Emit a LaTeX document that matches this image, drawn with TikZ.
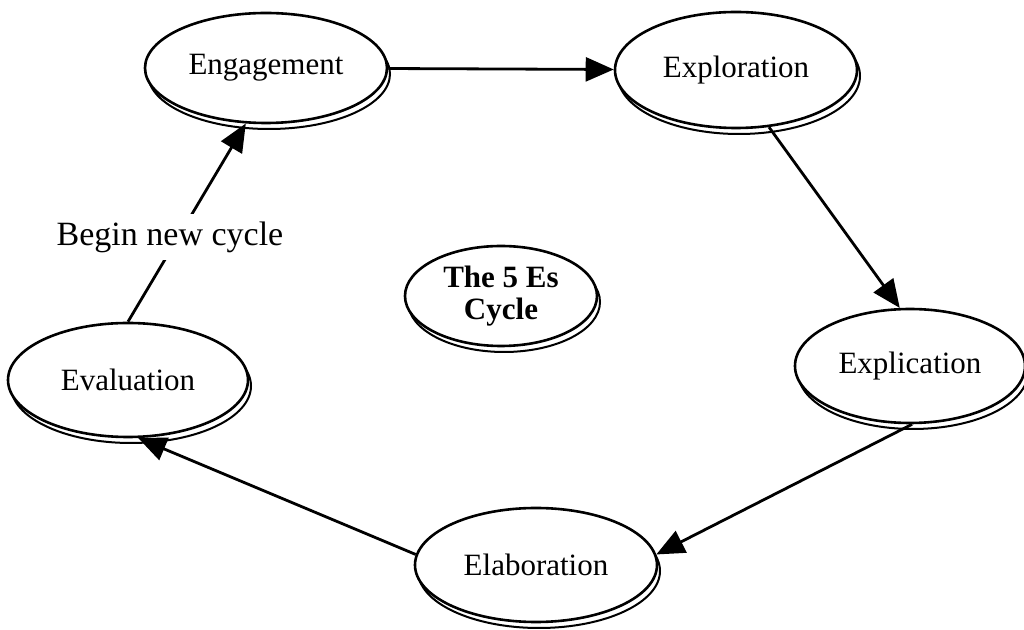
\documentclass[tikz,border=0pt]{standalone}
\usepackage{fontspec}
\setmainfont{Liberation Serif}
\usetikzlibrary{shapes.geometric,shadows,arrows.meta}

\begin{document}
\begin{tikzpicture}[x=0.5pt,y=-0.5pt,
  etape/.style={ellipse,draw,line width=1.3pt,fill=white,inner sep=0pt,
    font=\fontsize{15.5}{16}\selectfont,
    copy shadow={shadow xshift=1.5pt,shadow yshift=-3pt,fill=white,draw=black,line width=1pt}},
  fleche/.style={line width=1.4pt,-{Triangle[length=14pt,width=12pt]}}]
\useasboundingbox (0,0) rectangle (1024,630);
\node[etape,minimum width=121pt,minimum height=55pt] (eng) at (266,68) {Engagement};
\node[etape,minimum width=121pt,minimum height=58pt] (expl) at (736,70) {Exploration};
\node[etape,minimum width=96pt,minimum height=50pt,align=center] (cyc) at (501,296) {\bfseries The 5 Es\\\bfseries Cycle};
\node[etape,minimum width=115pt,minimum height=57pt] (expc) at (910,366) {Explication};
\node[etape,minimum width=120pt,minimum height=57pt] (eval) at (128,380) {Evaluation};
\node[etape,minimum width=121pt,minimum height=57pt] (elab) at (536,565) {Elaboration};
\draw[fleche] (eng) -- (expl);
\draw[fleche] (expl.-60) -- (expc.100);
\draw[fleche] (expc.-88) -- (elab.5);
\draw[fleche] (elab.175) -- (eval.-80);
\draw[fleche] (eval.90) -- (eng.-110);
\node[fill=white,inner sep=4pt,font=\fontsize{17}{18}\selectfont] (recom) at (170,237) {Begin new cycle};
\end{tikzpicture}
\end{document}
